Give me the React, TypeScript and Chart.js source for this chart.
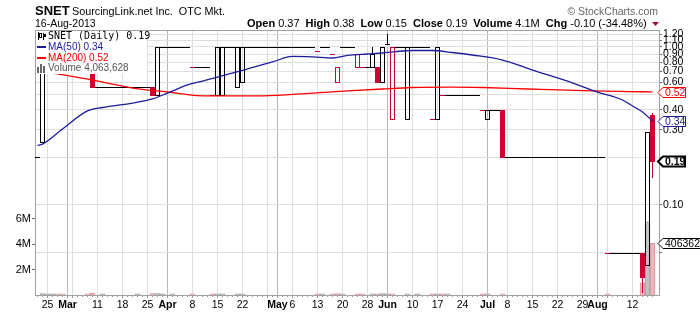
import React, { useEffect, useRef } from "react";
import { Chart, registerables } from "chart.js";
Chart.register(...registerables);

const dates = [
  "2013-02-21","2013-02-22","2013-02-25","2013-02-26","2013-02-27","2013-02-28","2013-03-01","2013-03-04","2013-03-05","2013-03-06",
  "2013-03-07","2013-03-08","2013-03-11","2013-03-12","2013-03-13","2013-03-14","2013-03-15","2013-03-18","2013-03-19","2013-03-20",
  "2013-03-21","2013-03-22","2013-03-25","2013-03-26","2013-03-27","2013-03-28","2013-04-01","2013-04-02","2013-04-03","2013-04-04",
  "2013-04-05","2013-04-08","2013-04-09","2013-04-10","2013-04-11","2013-04-12","2013-04-15","2013-04-16","2013-04-17","2013-04-18",
  "2013-04-19","2013-04-22","2013-04-23","2013-04-24","2013-04-25","2013-04-26","2013-04-29","2013-04-30","2013-05-01","2013-05-02",
  "2013-05-03","2013-05-06","2013-05-07","2013-05-08","2013-05-09","2013-05-10","2013-05-13","2013-05-14","2013-05-15","2013-05-16",
  "2013-05-17","2013-05-20","2013-05-21","2013-05-22","2013-05-23","2013-05-24","2013-05-28","2013-05-29","2013-05-30","2013-05-31",
  "2013-06-03","2013-06-04","2013-06-05","2013-06-06","2013-06-07","2013-06-10","2013-06-11","2013-06-12","2013-06-13","2013-06-14",
  "2013-06-17","2013-06-18","2013-06-19","2013-06-20","2013-06-21","2013-06-24","2013-06-25","2013-06-26","2013-06-27","2013-06-28",
  "2013-07-01","2013-07-02","2013-07-03","2013-07-05","2013-07-08","2013-07-09","2013-07-10","2013-07-11","2013-07-12","2013-07-15",
  "2013-07-16","2013-07-17","2013-07-18","2013-07-19","2013-07-22","2013-07-23","2013-07-24","2013-07-25","2013-07-26","2013-07-29",
  "2013-07-30","2013-07-31","2013-08-01","2013-08-02","2013-08-05","2013-08-06","2013-08-07","2013-08-08","2013-08-09","2013-08-12",
  "2013-08-13","2013-08-14","2013-08-15","2013-08-16",
];

const opens = [
  0.20, 0.25, 0.80, 0.80, 0.75, 0.72, 0.72, 0.72, 0.72, 0.72,
  0.70, 0.70, 0.56, 0.56, 0.56, 0.56, 0.56, 0.56, 0.56, 0.56,
  0.56, 0.56, 0.56, 0.56, 0.50, 1.00, 1.00, 1.00, 1.00, 1.00,
  1.00, 0.75, 0.75, 0.75, 0.75, 0.50, 0.50, 0.50, 1.00, 1.00,
  0.56, 0.60, 1.00, 1.00, 1.00, 1.00, 1.00, 1.00, 1.00, 1.00,
  1.00, 1.00, 1.00, 1.00, 1.00, 1.00, 0.95, 1.00, 1.00, 0.90,
  0.60, 1.00, 1.00, 1.00, 0.75, 0.75, 0.75, 0.75, 0.75, 0.60,
  1.05, 0.35, 1.00, 1.00, 0.35, 1.00, 1.00, 1.00, 1.00, 0.35,
  0.35, 0.50, 0.50, 0.50, 0.50, 0.50, 0.50, 0.50, 0.50, 0.40,
  0.35, 0.40, 0.40, 0.40, 0.20, 0.20, 0.20, 0.20, 0.20, 0.20,
  0.20, 0.20, 0.20, 0.20, 0.20, 0.20, 0.20, 0.20, 0.20, 0.20,
  0.20, 0.20, 0.20, 0.20, 0.05, 0.05, 0.05, 0.05, 0.05, 0.05,
  0.05, 0.05, 0.042, 0.37,
];
const highs = [
  0.20, 0.80, 0.80, 0.80, 0.75, 0.72, 0.72, 0.72, 0.72, 0.72,
  0.70, 0.70, 0.56, 0.56, 0.56, 0.56, 0.56, 0.56, 0.56, 0.56,
  0.56, 0.56, 0.56, 0.56, 1.00, 1.00, 1.00, 1.00, 1.00, 1.00,
  1.00, 0.75, 0.75, 0.75, 0.75, 0.50, 1.00, 1.00, 1.00, 1.00,
  1.00, 1.00, 1.00, 1.00, 1.00, 1.00, 1.00, 1.00, 1.00, 1.00,
  1.00, 1.00, 1.00, 1.00, 1.00, 1.00, 0.95, 1.00, 1.00, 0.90,
  0.75, 1.00, 1.00, 1.00, 0.90, 0.75, 0.75, 1.00, 0.75, 1.00,
  1.20, 1.00, 1.00, 1.00, 1.00, 1.00, 1.00, 1.00, 1.00, 0.35,
  1.00, 0.50, 0.50, 0.50, 0.50, 0.50, 0.50, 0.50, 0.50, 0.40,
  0.40, 0.40, 0.40, 0.40, 0.20, 0.20, 0.20, 0.20, 0.20, 0.20,
  0.20, 0.20, 0.20, 0.20, 0.20, 0.20, 0.20, 0.20, 0.20, 0.20,
  0.20, 0.20, 0.20, 0.20, 0.05, 0.05, 0.05, 0.05, 0.05, 0.05,
  0.05, 0.05, 0.29, 0.38,
];
const lows = [
  0.20, 0.25, 0.80, 0.80, 0.75, 0.72, 0.72, 0.72, 0.72, 0.72,
  0.70, 0.56, 0.56, 0.56, 0.56, 0.56, 0.56, 0.56, 0.56, 0.56,
  0.56, 0.56, 0.56, 0.50, 0.50, 1.00, 1.00, 1.00, 1.00, 1.00,
  1.00, 0.75, 0.75, 0.75, 0.75, 0.50, 0.50, 0.50, 1.00, 1.00,
  0.56, 0.60, 1.00, 1.00, 1.00, 1.00, 1.00, 1.00, 1.00, 1.00,
  1.00, 1.00, 1.00, 1.00, 1.00, 1.00, 0.95, 1.00, 1.00, 0.90,
  0.60, 1.00, 1.00, 1.00, 0.75, 0.75, 0.75, 0.75, 0.60, 0.60,
  1.05, 0.35, 1.00, 1.00, 0.35, 1.00, 1.00, 1.00, 1.00, 0.35,
  0.35, 0.50, 0.50, 0.50, 0.50, 0.50, 0.50, 0.50, 0.50, 0.40,
  0.35, 0.40, 0.40, 0.20, 0.20, 0.20, 0.20, 0.20, 0.20, 0.20,
  0.20, 0.20, 0.20, 0.20, 0.20, 0.20, 0.20, 0.20, 0.20, 0.20,
  0.20, 0.20, 0.20, 0.20, 0.05, 0.05, 0.05, 0.05, 0.05, 0.05,
  0.05, 0.028, 0.042, 0.15,
];
const closes = [
  0.20, 0.80, 0.80, 0.80, 0.75, 0.72, 0.72, 0.72, 0.72, 0.72,
  0.70, 0.56, 0.56, 0.56, 0.56, 0.56, 0.56, 0.56, 0.56, 0.56,
  0.56, 0.56, 0.56, 0.50, 1.00, 1.00, 1.00, 1.00, 1.00, 1.00,
  1.00, 0.75, 0.75, 0.75, 0.75, 0.50, 1.00, 1.00, 1.00, 1.00,
  1.00, 1.00, 1.00, 1.00, 1.00, 1.00, 1.00, 1.00, 1.00, 1.00,
  1.00, 1.00, 1.00, 1.00, 1.00, 1.00, 0.95, 1.00, 1.00, 0.90,
  0.75, 1.00, 1.00, 1.00, 0.90, 0.75, 0.75, 0.90, 0.60, 1.00,
  1.05, 1.00, 1.00, 1.00, 1.00, 1.00, 1.00, 1.00, 1.00, 0.35,
  1.00, 0.50, 0.50, 0.50, 0.50, 0.50, 0.50, 0.50, 0.50, 0.40,
  0.40, 0.40, 0.40, 0.20, 0.20, 0.20, 0.20, 0.20, 0.20, 0.20,
  0.20, 0.20, 0.20, 0.20, 0.20, 0.20, 0.20, 0.20, 0.20, 0.20,
  0.20, 0.20, 0.20, 0.20, 0.05, 0.05, 0.05, 0.05, 0.05, 0.05,
  0.05, 0.035, 0.29, 0.19,
];
const volumes = [
  0, 120000, 100000, 100000, 100000, 100000, 0, 0, 0, 0,
  100000, 150000, 0, 100000, 0, 0, 0, 0, 0, 0,
  100000, 0, 0, 120000, 120000, 100000, 0, 100000, 0, 0,
  0, 100000, 0, 0, 0, 100000, 100000, 100000, 0, 0,
  100000, 100000, 0, 0, 0, 0, 0, 0, 0, 0,
  0, 0, 0, 0, 0, 0, 100000, 100000, 0, 100000,
  120000, 100000, 0, 0, 100000, 100000, 0, 100000, 100000, 120000,
  100000, 100000, 0, 0, 100000, 0, 100000, 0, 0, 100000,
  100000, 100000, 100000, 0, 0, 0, 0, 0, 0, 100000,
  100000, 0, 0, 100000, 0, 0, 0, 0, 0, 0,
  0, 0, 0, 0, 0, 0, 0, 0, 0, 0,
  0, 0, 0, 0, 100000, 0, 0, 0, 0, 0,
  0, 930000, 5750000, 4063628,
];

// moving averages (day index into `dates`, value)
const ma50Days = [0, 1, 5, 10, 13, 19, 23, 26, 30, 33, 35, 42, 47, 51, 55, 59, 62, 66, 69, 71, 75, 79, 83, 87, 93, 99, 106, 112, 117, 119, 121, 123];
const ma50Values = [0.238, 0.243, 0.303, 0.394, 0.414, 0.442, 0.469, 0.511, 0.575, 0.609, 0.632, 0.726, 0.804, 0.871, 0.865, 0.852, 0.884, 0.903, 0.916, 0.93, 0.95, 0.95, 0.923, 0.89, 0.827, 0.715, 0.609, 0.518, 0.462, 0.423, 0.388, 0.34];
const ma200Days = [0, 4, 11, 19, 26, 32, 35, 45, 55, 62, 69, 75, 83, 89, 98, 111, 121, 123];
const ma200Values = [0.715, 0.675, 0.618, 0.55, 0.519, 0.493, 0.49, 0.49, 0.511, 0.527, 0.542, 0.554, 0.558, 0.554, 0.542, 0.527, 0.521, 0.52];

const priceTicks = [1.2, 1.1, 1.0, 0.9, 0.8, 0.7, 0.6, 0.5, 0.4, 0.3, 0.2, 0.1, 0.05];
const unlabeledPriceTicks = [0.5, 0.2, 0.05];
const volumeTicks = [2000000, 4000000, 6000000];
const xTickDates = ["2013-02-25","2013-03-01","2013-03-04","2013-03-11","2013-03-18","2013-03-25","2013-04-01","2013-04-08","2013-04-15","2013-04-22","2013-04-29","2013-05-01","2013-05-06","2013-05-13","2013-05-20","2013-05-28","2013-06-03","2013-06-10","2013-06-17","2013-06-24","2013-07-01","2013-07-08","2013-07-15","2013-07-22","2013-07-29","2013-08-01","2013-08-05","2013-08-12"];
const xTickLabels = ["25","Mar","","11","18","25","Apr","8","15","22","","May","6","13","20","28","Jun","10","17","24","Jul","8","15","22","29","Aug","","12"];
const xTickMonth = [false,true,false,false,false,false,true,false,false,false,false,true,false,false,false,false,true,false,false,false,true,false,false,false,false,true,false,false];

const SANS = '"Liberation Sans", Arial, sans-serif';
const RED = "#cc0033";
const NAVY = "#1c1c9c";
const MA_RED = "#ff0000";
const MONTHS = ["Jan","Feb","Mar","Apr","May","Jun","Jul","Aug","Sep","Oct","Nov","Dec"];

const isDown = (k: number) => k > 0 && closes[k] < closes[k - 1];

const candlePlugin = {
  id: "candles",
  afterDatasetDraw(chart: any, args: any) {
    if (args.index !== 0) return;
    const { ctx, chartArea: a } = chart;
    const xs = chart.scales.x;
    const ys = chart.scales.yPrice;
    ctx.save();
    ctx.beginPath();
    ctx.rect(a.left, a.top, a.right - a.left, a.bottom - a.top);
    ctx.clip();
    for (let k = 0; k < dates.length; k++) {
      const cx = xs.getPixelForValue(k);
      const left = Math.round(cx - 2.5);
      const o = opens[k], c = closes[k];
      const yO = Math.round(ys.getPixelForValue(o));
      const yC = Math.round(ys.getPixelForValue(c));
      const yH = Math.round(ys.getPixelForValue(highs[k]));
      const yL = Math.round(ys.getPixelForValue(lows[k]));
      const color = isDown(k) ? RED : "#000000";
      ctx.fillStyle = color;
      ctx.strokeStyle = color;
      ctx.lineWidth = 1;
      const top = Math.min(yO, yC), bot = Math.max(yO, yC);
      if (yH < top) ctx.fillRect(left + 2, yH, 1, top - yH);
      if (yL > bot) ctx.fillRect(left + 2, bot, 1, yL - bot + 1);
      if (top === bot) ctx.fillRect(left, top, 5, 1);
      else if (c > o) ctx.strokeRect(left + 0.5, top + 0.5, 4, bot - top);
      else ctx.fillRect(left, top, 5, bot - top + 1);
    }
    ctx.restore();
  },
};

const overlayPlugin = {
  id: "overlay",
  afterDatasetsDraw(chart: any) {
    const { ctx, chartArea: a } = chart;
    const last = dates.length - 1;
    ctx.save();
    // legend box (opaque)
    ctx.fillStyle = "#ffffff";
    ctx.fillRect(a.left + 1, a.top + 1, 111, 43);
    ctx.textBaseline = "middle";
    // row 1 icon
    ctx.fillStyle = "#000";
    ctx.fillRect(38, 32, 1, 8);
    ctx.strokeStyle = "#000";
    ctx.lineWidth = 1;
    ctx.strokeRect(39.5, 33.5, 2, 4);
    ctx.fillRect(43, 33, 1, 7);
    ctx.fillRect(44, 34, 2, 3);
    ctx.font = '10px "DejaVu Sans Mono", monospace';
    ctx.fillText("SNET (Daily) " + closes[last].toFixed(2), 48, 36.5);
    // MA rows
    ctx.font = "10px " + SANS;
    ctx.fillStyle = NAVY;
    ctx.fillRect(37, 46, 9, 2);
    ctx.fillText("MA(50) " + ma50Values[ma50Values.length - 1].toFixed(2), 48, 47.5);
    ctx.fillStyle = MA_RED;
    ctx.fillRect(37, 57, 9, 2);
    ctx.fillText("MA(200) " + ma200Values[ma200Values.length - 1].toFixed(2), 48, 58.5);
    ctx.fillStyle = "#666";
    ctx.fillRect(37, 67, 2, 6);
    ctx.fillRect(40, 64, 2, 9);
    ctx.fillRect(43, 66, 2, 7);
    ctx.fillStyle = "#555";
    ctx.fillText("Volume " + volumes[last].toLocaleString("en-US"), 48, 68.5);
    // top frame
    ctx.fillStyle = "#a0a0a0";
    ctx.fillRect(a.left, a.top, a.right - a.left, 1);
    ctx.restore();
  },
  afterDraw(chart: any) {
    const { ctx, chartArea: a } = chart;
    const xs = chart.scales.x;
    const last = dates.length - 1;
    ctx.save();
    // minor day ticks on x axis
    ctx.fillStyle = "#999";
    for (let k = 0; k < dates.length; k++) {
      const px = Math.floor(xs.getPixelForValue(k));
      ctx.fillRect(px, a.bottom + 1, 1, 1);
    }
    // header
    ctx.fillStyle = "#000";
    ctx.textBaseline = "alphabetic";
    ctx.font = "bold 13px " + SANS;
    ctx.fillText("SNET", 35, 15);
    ctx.font = "10.8px " + SANS;
    ctx.fillText("SourcingLink.net Inc.  OTC Mkt.", 72, 15);
    const [yy, mm, dd] = dates[last].split("-");
    ctx.font = "10.5px " + SANS;
    ctx.fillText(`${Number(dd)}-${MONTHS[Number(mm) - 1]}-${yy}`, 35, 27);
    ctx.fillStyle = "#666";
    ctx.font = "10.5px " + SANS;
    ctx.textAlign = "right";
    ctx.fillText("\u00a9 StockCharts.com", 658, 15);
    ctx.textAlign = "left";
    const chg = closes[last] - closes[last - 1];
    const pct = (chg / closes[last - 1]) * 100;
    const groups = [
      ["Open", opens[last].toFixed(2)],
      ["High", highs[last].toFixed(2)],
      ["Low", lows[last].toFixed(2)],
      ["Close", closes[last].toFixed(2)],
      ["Volume", (volumes[last] / 1e6).toFixed(1) + "M"],
      ["Chg", `${chg.toFixed(2)} (${pct.toFixed(2)}%)`],
    ];
    let x = 247;
    ctx.fillStyle = "#000";
    for (const [lab, val] of groups) {
      ctx.font = "bold 11px " + SANS;
      ctx.fillText(lab, x, 27);
      x += ctx.measureText(lab).width;
      ctx.font = "11px " + SANS;
      const t = " " + val;
      ctx.fillText(t, x, 27);
      x += ctx.measureText(t).width + 6;
    }
    ctx.fillStyle = "#99103a";
    ctx.beginPath();
    ctx.moveTo(652, 22);
    ctx.lineTo(659, 22);
    ctx.lineTo(655.5, 26);
    ctx.closePath();
    ctx.fill();

    // value tags on the right
    const yp = chart.scales.yPrice;
    const yv = chart.scales.yVol;
    const tag = (y: number, text: string, color: string, bold: boolean, right: number) => {
      y = Math.round(y) + 0.5;
      ctx.beginPath();
      ctx.moveTo(658, y);
      ctx.lineTo(663, y - 5);
      ctx.lineTo(right, y - 5);
      ctx.lineTo(right, y + 5);
      ctx.lineTo(663, y + 5);
      ctx.closePath();
      ctx.fillStyle = "#fff";
      ctx.fill();
      ctx.lineWidth = bold ? 2 : 1;
      ctx.strokeStyle = color;
      ctx.stroke();
      ctx.fillStyle = color;
      ctx.font = (bold ? "bold " : "") + "10.5px " + SANS;
      ctx.textBaseline = "middle";
      ctx.fillText(text, 665, y + 0.5);
    };
    tag(yp.getPixelForValue(ma200Values[ma200Values.length - 1]), ma200Values[ma200Values.length - 1].toFixed(2), MA_RED, false, 685.5);
    tag(yp.getPixelForValue(ma50Values[ma50Values.length - 1]), ma50Values[ma50Values.length - 1].toFixed(2), NAVY, false, 685.5);
    tag(yp.getPixelForValue(closes[last]), closes[last].toFixed(2), "#000", true, 685);
    tag(yv.getPixelForValue(volumes[last]), String(volumes[last]), "#000", false, 710);
    ctx.restore();
  },
};

export default function App() {
  const ref = useRef<HTMLCanvasElement | null>(null);
  useEffect(() => {
    document.body.style.margin = "0";
    const canvas = ref.current;
    if (!canvas) return;
    const xTickIdx = xTickDates.map((d) => dates.indexOf(d));
    const volColors = volumes.map((_, k) => (isDown(k) ? "#ebb6bc" : "#c2c2c2"));
    const volBorders = volumes.map((_, k) => (isDown(k) ? "#de8f99" : "#999999"));
    const chart = new Chart(canvas, {
      type: "bar",
      data: {
        datasets: [
          {
            type: "bar",
            label: "Volume",
            data: volumes.map((v, k) => ({ x: k, y: v })),
            yAxisID: "yVol",
            xAxisID: "x",
            backgroundColor: volColors,
            borderColor: volBorders,
            borderWidth: 1,
            barThickness: 5,
            order: 3,
          } as any,
          {
            type: "line",
            label: "MA(50)",
            data: ma50Days.map((d, i) => ({ x: d, y: ma50Values[i] })),
            yAxisID: "yPrice",
            xAxisID: "x",
            borderColor: NAVY,
            borderWidth: 1.3,
            pointRadius: 0,
            cubicInterpolationMode: "monotone",
            order: 1,
          } as any,
          {
            type: "line",
            label: "MA(200)",
            data: ma200Days.map((d, i) => ({ x: d, y: ma200Values[i] })),
            yAxisID: "yPrice",
            xAxisID: "x",
            borderColor: MA_RED,
            borderWidth: 1.3,
            pointRadius: 0,
            cubicInterpolationMode: "monotone",
            order: 2,
          } as any,
        ],
      },
      options: {
        responsive: false,
        animation: false,
        devicePixelRatio: 1,
        layout: { padding: { top: 30, left: 0, right: 0, bottom: 0 } },
        plugins: { legend: { display: false }, tooltip: { enabled: false } },
        scales: {
          x: {
            type: "linear",
            position: "bottom",
            offset: false,
            min: -0.5,
            max: 124.3,
            afterBuildTicks: (s: any) => {
              s.ticks = xTickIdx.map((v, i) => ({ value: v, major: xTickMonth[i] }));
            },
            afterFit: (s: any) => {
              s.height = 17;
            },
            ticks: {
              autoSkip: false,
              maxRotation: 0,
              minRotation: 0,
              padding: 1,
              color: "#000",
              font: (c: any) => ({ family: SANS, size: 10.5, weight: c.tick && c.tick.major ? "bold" : "normal" }),
              callback: (_v: any, i: number) => xTickLabels[i],
            },
            grid: {
              offset: false,
              color: (c: any) => (c.tick && c.tick.major ? "#b8b8b8" : "#dedede"),
              tickLength: 3,
              tickColor: "#999",
            },
            border: { color: "#a0a0a0" },
          } as any,
          yVol: {
            type: "linear",
            position: "left",
            min: 0,
            max: 20800000,
            afterBuildTicks: (s: any) => {
              s.ticks = volumeTicks.map((v) => ({ value: v }));
            },
            afterFit: (s: any) => {
              s.width = 35;
            },
            ticks: {
              autoSkip: false,
              padding: 1,
              color: "#000",
              font: { family: SANS, size: 11 },
              callback: (v: any) => Number(v) / 1e6 + "M",
            },
            grid: { drawOnChartArea: false, tickLength: 3, tickColor: "#666" },
            border: { color: "#a0a0a0" },
          } as any,
          yPrice: {
            type: "logarithmic",
            position: "right",
            min: 0.02694,
            max: 1.281,
            afterBuildTicks: (s: any) => {
              s.ticks = priceTicks.map((v) => ({ value: v }));
            },
            afterFit: (s: any) => {
              s.width = 41;
            },
            ticks: {
              autoSkip: false,
              padding: 1,
              color: "#000",
              font: { family: SANS, size: 10.5 },
              callback: (v: any) => (unlabeledPriceTicks.includes(Number(v)) ? "" : Number(v).toFixed(2)),
            },
            grid: { color: "#dedede", tickLength: 3, tickColor: "#666" },
            border: { color: "#a0a0a0" },
          } as any,
        },
      },
      plugins: [candlePlugin, overlayPlugin],
    } as any);
    return () => chart.destroy();
  }, []);
  return (
    <div style={{ width: 700, height: 312 }}>
      <canvas ref={ref} width={700} height={312} style={{ display: "block", width: 700, height: 312 }} />
    </div>
  );
}
